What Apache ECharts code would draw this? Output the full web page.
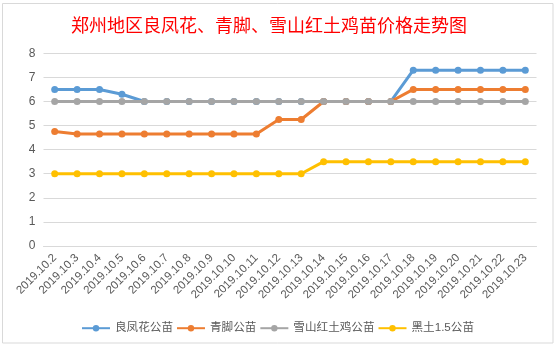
<!DOCTYPE html>
<html>
<head>
<meta charset="utf-8">
<script src="https://cdn.jsdelivr.net/npm/echarts@6/dist/echarts.min.js"></script>
<style>
html,body{margin:0;padding:0;background:#fff;}
#c{width:555px;height:348px;}
</style>
</head>
<body>
<div id="c"></div>
<script>
const title = '郑州地区良凤花、青脚、雪山红土鸡苗价格走势图';
const categories = ['2019.10.2','2019.10.3','2019.10.4','2019.10.5','2019.10.6','2019.10.7','2019.10.8','2019.10.9','2019.10.10','2019.10.11','2019.10.12','2019.10.13','2019.10.14','2019.10.15','2019.10.16','2019.10.17','2019.10.18','2019.10.19','2019.10.20','2019.10.21','2019.10.22','2019.10.23'];
const seriesNames = ['良凤花公苗','青脚公苗','雪山红土鸡公苗','黑土1.5公苗'];
const liangfenghua = [6.5,6.5,6.5,6.3,6,6,6,6,6,6,6,6,6,6,6,6,7.3,7.3,7.3,7.3,7.3,7.3];
const qingjiao = [4.75,4.65,4.65,4.65,4.65,4.65,4.65,4.65,4.65,4.65,5.25,5.25,6,6,6,6,6.5,6.5,6.5,6.5,6.5,6.5];
const xueshan = [6,6,6,6,6,6,6,6,6,6,6,6,6,6,6,6,6,6,6,6,6,6];
const heitu = [3,3,3,3,3,3,3,3,3,3,3,3,3.5,3.5,3.5,3.5,3.5,3.5,3.5,3.5,3.5,3.5];
const yTicks = [0,1,2,3,4,5,6,7,8];

const colors = ['#5B9BD5','#ED7D31','#A5A5A5','#FFC000'];
const dataSets = [liangfenghua, qingjiao, xueshan, heitu];
const font = '"Liberation Sans", "Noto Sans CJK SC", sans-serif';

const chart = echarts.init(document.getElementById('c'), null, {renderer:'canvas'});
chart.setOption({
  animation: false,
  backgroundColor: '#fff',
  title: {
    text: title, left: 66, top: 11,
    textStyle: {color:'#FF0000', fontSize:18, fontWeight:'normal', fontFamily:'"Noto Sans CJK SC", sans-serif'}
  },
  legend: {
    bottom: 9, left: 'center',
    itemWidth: 28, itemHeight: 8, itemGap: 3,
    textStyle: {color:'#595959', fontSize:11.6, fontFamily:font},
    data: seriesNames
  },
  grid: {left: 43.5, right: 18.5, top: 53.3, bottom: 102, containLabel: false},
  xAxis: {
    type: 'category', data: categories, boundaryGap: true,
    axisLine: {show:true, lineStyle:{color:'#D9D9D9'}},
    axisTick: {show:false},
    axisLabel: {rotate:45, interval:0, color:'#595959', fontSize:11.5, fontFamily:font, margin:10}
  },
  yAxis: {
    type: 'value', min: yTicks[0], max: yTicks[yTicks.length-1], interval: 1,
    axisLine: {show:false}, axisTick: {show:false},
    axisLabel: {color:'#595959', fontSize:12, fontFamily:font, margin:8},
    splitLine: {lineStyle:{color:'#D9D9D9'}}
  },
  series: seriesNames.map((n,i)=>({
    name: n, type: 'line', data: dataSets[i], z: 2+i,
    symbol: 'circle', symbolSize: 7,
    lineStyle: {width: 3, color: colors[i]},
    itemStyle: {color: colors[i]},
    emphasis: {disabled: true}
  })),
  graphic: [{
    type: 'rect', shape: {x:2.5, y:3.5, width:550.5, height:339.5},
    style: {fill:'none', stroke:'#D9D9D9', lineWidth:1}, silent: true
  }]
});
</script>
</body>
</html>
